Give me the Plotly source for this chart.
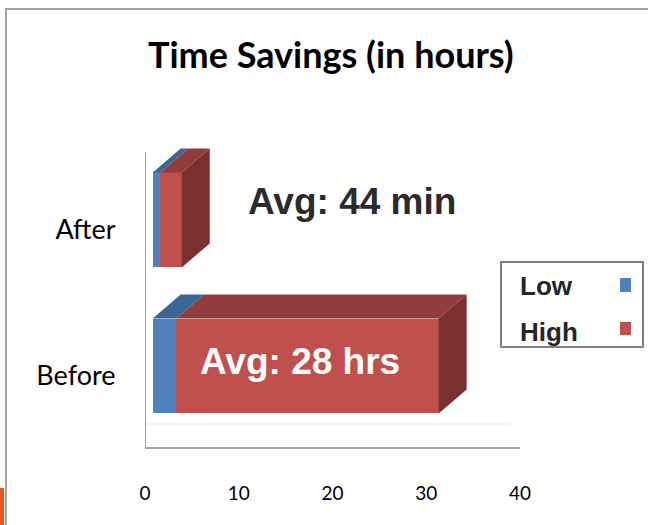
import plotly.graph_objects as go

# Data (hours)
categories = ["Before", "After"]
cat_pos = [0, 1]
low_values = [2.5, 0.8]
high_values = [28.0, 2.3]
x_ticks = [0, 10, 20, 30, 40]

# Colours
BLUE_FRONT, BLUE_TOP = "#4f81bd", "#3a6597"
RED_FRONT, RED_TOP, RED_SIDE = "#c0504d", "#923d3b", "#7a302e"

W, H = 648, 525
ML, MR, MT, MB = 145, 128, 130, 78
PW, PH = W - ML - MR, H - MT - MB
X_RANGE = [0, 40]
PX_PER_X = PW / (X_RANGE[1] - X_RANGE[0])
Y_RANGE = [-0.555, 1.616]
PX_PER_Y = PH / (Y_RANGE[1] - Y_RANGE[0])

BAR_W = 0.65
DEPTH_X = 28 / PX_PER_X   # depth of the 3-D extrusion, in axis units
DEPTH_Y = 24 / PX_PER_Y
BAR_SHIFT = 7.7 / PX_PER_X  # front plane sits slightly off the value axis


def px(xp):
    return (xp - ML) / PW


def py(yp):
    return (H - MB - yp) / PH


fig = go.Figure()

# front faces
fig.add_trace(go.Bar(y=cat_pos, x=low_values, orientation="h", width=BAR_W,
                     marker=dict(color=BLUE_FRONT, line=dict(width=0)),
                     name="Low", xaxis="x2", hoverinfo="x+name"))
fig.add_trace(go.Bar(y=cat_pos, x=high_values, orientation="h", width=BAR_W,
                     marker=dict(color=RED_FRONT, line=dict(width=0)),
                     name="High", xaxis="x2", hoverinfo="x+name"))


def face(xs, ys, color):
    fig.add_trace(go.Scatter(x=xs + [xs[0]], y=ys + [ys[0]], mode="lines",
                             fill="toself", fillcolor=color,
                             line=dict(width=0, color=color),
                             xaxis="x2", hoverinfo="skip", showlegend=False))


# top and side faces of the extruded bars
for c, lo, hi in zip(cat_pos, low_values, high_values):
    top = c + BAR_W / 2
    bot = c - BAR_W / 2
    end = lo + hi
    face([0, lo, lo + DEPTH_X, DEPTH_X],
         [top, top, top + DEPTH_Y, top + DEPTH_Y], BLUE_TOP)
    face([lo, end, end + DEPTH_X, lo + DEPTH_X],
         [top, top, top + DEPTH_Y, top + DEPTH_Y], RED_TOP)
    face([end, end + DEPTH_X, end + DEPTH_X, end],
         [bot, bot + DEPTH_Y, top + DEPTH_Y, top], RED_SIDE)

shapes = [
    # outer frame
    dict(type="line", xref="paper", yref="paper", x0=px(5), x1=px(648),
         y0=py(9), y1=py(9), line=dict(color="#a3a3a3", width=2)),
    dict(type="line", xref="paper", yref="paper", x0=px(6), x1=px(6),
         y0=py(9), y1=py(525), line=dict(color="#a3a3a3", width=2)),
    dict(type="rect", xref="paper", yref="paper", x0=px(0), x1=px(4),
         y0=py(488), y1=py(525), line=dict(width=0), fillcolor="#e8571e"),
    # floor back edge and value-axis wall line
    dict(type="line", xref="paper", yref="paper", x0=px(146), x1=px(510),
         y0=py(424), y1=py(424), line=dict(color="#e8e8e8", width=1)),
    dict(type="line", xref="x", yref="paper", x0=0, x1=0,
         y0=py(447), y1=py(152), line=dict(color="#a6a6a6", width=2)),
    # legend box and swatches
    dict(type="rect", xref="paper", yref="paper", x0=px(501), x1=px(643),
         y0=py(347), y1=py(262), line=dict(color="#808080", width=2),
         fillcolor="rgba(0,0,0,0)"),
    dict(type="rect", xref="paper", yref="paper", x0=px(620), x1=px(631),
         y0=py(292), y1=py(278), line=dict(width=0), fillcolor=BLUE_FRONT),
    dict(type="rect", xref="paper", yref="paper", x0=px(620), x1=px(631),
         y0=py(335), y1=py(322), line=dict(width=0), fillcolor=RED_FRONT),
]

ann = [
    dict(text="<b>Time Savings (in hours)</b>", x=px(331), y=py(54), xref="paper", yref="paper",
         showarrow=False, xanchor="center", yanchor="middle",
         font=dict(family="Lato", size=36, color="#000000")),
    dict(text="<b>Avg: 44 min</b>", x=px(246), y=py(201), xref="paper", yref="paper",
         showarrow=False, xanchor="left", yanchor="middle",
         font=dict(family="Liberation Sans", size=37, color="#2b2b2b")),
    dict(text="<b>Avg: 28 hrs</b>", x=px(198), y=py(361), xref="paper", yref="paper",
         showarrow=False, xanchor="left", yanchor="middle",
         font=dict(family="Liberation Sans", size=37, color="#ffffff")),
    dict(text="<b>Low</b>", x=px(518), y=py(286), xref="paper", yref="paper",
         showarrow=False, xanchor="left", yanchor="middle",
         font=dict(family="Liberation Sans", size=26, color="#262626")),
    dict(text="<b>High</b>", x=px(518), y=py(332), xref="paper", yref="paper",
         showarrow=False, xanchor="left", yanchor="middle",
         font=dict(family="Liberation Sans", size=26, color="#262626")),
]

fig.update_layout(
    width=W, height=H,
    margin=dict(l=ML, r=MR, t=MT, b=MB, pad=0),
    paper_bgcolor="white", plot_bgcolor="white",
    barmode="stack", showlegend=False,
    shapes=shapes, annotations=ann,
    xaxis=dict(range=X_RANGE, tickvals=x_ticks, ticktext=[str(v) for v in x_ticks],
               showgrid=False, zeroline=False, showline=True,
               linecolor="#a6a6a6", linewidth=2,
               ticks="outside", ticklen=28, tickcolor="rgba(0,0,0,0)",
               tickfont=dict(family="Lato", size=19, color="#000000"),
               fixedrange=True),
    xaxis2=dict(range=[X_RANGE[0] - BAR_SHIFT, X_RANGE[1] - BAR_SHIFT],
                overlaying="x", visible=False, fixedrange=True),
    yaxis=dict(range=Y_RANGE, tickvals=[c - 0.065 for c in cat_pos], ticktext=categories,
               showgrid=False, zeroline=False, showline=False,
               ticks="outside", ticklen=23, tickcolor="rgba(0,0,0,0)",
               tickfont=dict(family="Lato", size=27, color="#000000"),
               fixedrange=True),
)

fig.write_html("out.html")
